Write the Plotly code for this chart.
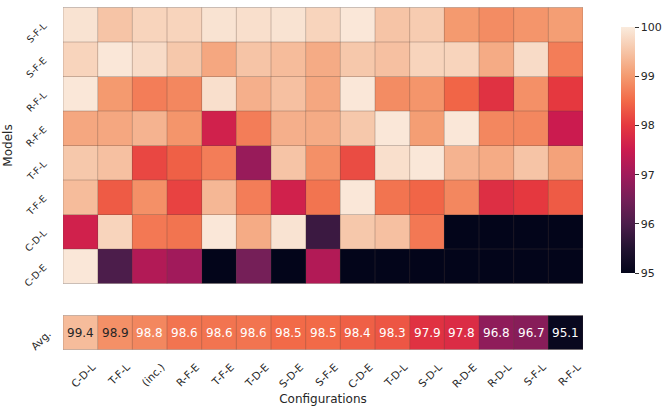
import plotly.graph_objects as go
from plotly.subplots import make_subplots

models = ["S-F-L", "S-F-E", "R-F-L", "R-F-E", "T-F-L", "T-F-E", "C-D-L", "C-D-E"]
configs = ["C-D-L", "T-F-L", "(inc.)", "R-F-E", "T-F-E", "T-D-E", "S-D-E", "S-F-E",
           "C-D-E", "T-D-L", "S-D-L", "R-D-E", "R-D-L", "S-F-L", "R-F-L"]

row_sfl = [99.9, 99.5, 99.7, 99.7, 99.9, 99.85, 99.9, 99.7, 99.95, 99.5, 99.6, 99.0, 98.85, 98.95, 99.05]
row_sfe = [99.7, 99.95, 99.8, 99.55, 99.15, 99.5, 99.4, 99.2, 99.55, 99.45, 99.7, 99.7, 99.2, 99.8, 98.7]
row_rfl = [99.95, 99.0, 98.7, 98.8, 99.85, 99.25, 99.45, 99.15, 99.95, 98.85, 98.95, 98.45, 97.9, 98.9, 98.0]
row_rfe = [99.15, 99.15, 99.3, 98.95, 97.6, 98.7, 99.25, 99.2, 99.55, 99.95, 99.05, 99.95, 98.8, 98.8, 97.5]
row_tfl = [99.55, 99.45, 98.15, 98.4, 98.7, 96.9, 99.5, 98.9, 98.2, 99.85, 99.95, 99.3, 99.2, 99.5, 99.1]
row_tfe = [99.4, 98.35, 98.9, 98.1, 99.35, 98.7, 97.6, 98.6, 99.95, 98.6, 98.45, 98.8, 97.85, 98.0, 98.35]
row_cdl = [97.6, 99.7, 98.65, 98.6, 99.95, 99.2, 99.9, 95.8, 99.55, 99.45, 98.65, 93.8, 91.5, 90.0, 85.5]
row_cde = [99.95, 96.0, 97.2, 97.0, 94.5, 96.5, 93.0, 97.2, 90.5, 90.75, 88.85, 93.4, 91.1, 89.65, 84.6]

avg_vals = [99.4, 98.9, 98.8, 98.6, 98.6, 98.6, 98.5, 98.5, 98.4, 98.3, 97.9, 97.8, 96.8, 96.7, 95.1]

z_main = [row_sfl, row_sfe, row_rfl, row_rfe, row_tfl, row_tfe, row_cdl, row_cde]

rocket = [
    [0.0, "#03051A"], [0.1, "#221331"], [0.2, "#4C1D4B"], [0.3, "#751F58"],
    [0.4, "#A11A5B"], [0.5, "#CB1B4F"], [0.6, "#E5383F"], [0.7, "#F26A48"],
    [0.8, "#F49A6F"], [0.9, "#F6C4A6"], [1.0, "#FAEBDD"],
]

FONT = "DejaVu Sans"
TXT = "#262626"

fig = make_subplots(rows=2, cols=1, shared_xaxes=False, vertical_spacing=0.0)

fig.add_trace(go.Heatmap(
    z=z_main, x=configs, y=models, zmin=95, zmax=100, colorscale=rocket,
    showscale=True,
    colorbar=dict(x=1.054, xanchor="left", y=0.195, yanchor="bottom", len=0.776,
                  lenmode="fraction", thickness=14, outlinewidth=0,
                  tickvals=[95, 96, 97, 98, 99, 100], ticks="outside", ticklen=4,
                  tickcolor="#333", tickfont=dict(family=FONT, size=11, color=TXT)),
    hoverinfo="skip",
), row=1, col=1)

text_colors = [TXT if v >= 98.85 else "white" for v in avg_vals]
fig.add_trace(go.Heatmap(
    z=[avg_vals], x=configs, y=["Avg."], zmin=95, zmax=100, colorscale=rocket,
    showscale=False, hoverinfo="skip",
), row=2, col=1)

for i, v in enumerate(avg_vals):
    fig.add_annotation(x=i, y=0, xref="x2", yref="y2", text=f"{v:.1f}", showarrow=False,
                       font=dict(family=FONT, size=12, color=text_colors[i]))

line_col = "rgba(90,70,60,0.3)"
nc, nr = len(configs), len(models)
for k in range(nc + 1):
    fig.add_shape(type="line", x0=k - 0.5, x1=k - 0.5, y0=-0.5, y1=nr - 0.5,
                  xref="x", yref="y", line=dict(color=line_col, width=1))
    fig.add_shape(type="line", x0=k - 0.5, x1=k - 0.5, y0=-0.5, y1=0.5,
                  xref="x2", yref="y2", line=dict(color=line_col, width=1))
for k in range(nr + 1):
    fig.add_shape(type="line", x0=-0.5, x1=nc - 0.5, y0=k - 0.5, y1=k - 0.5,
                  xref="x", yref="y", line=dict(color=line_col, width=1))
for k in range(2):
    fig.add_shape(type="line", x0=-0.5, x1=nc - 0.5, y0=k - 0.5, y1=k - 0.5,
                  xref="x2", yref="y2", line=dict(color=line_col, width=1))

fig.update_layout(
    width=664, height=414,
    margin=dict(l=63, r=81, t=7, b=64, autoexpand=False),
    paper_bgcolor="white", plot_bgcolor="white",
    font=dict(family=FONT, color=TXT),
    xaxis=dict(domain=[0, 1], showticklabels=False, ticks="", showgrid=False,
               zeroline=False, range=[-0.5, nc - 0.5], automargin=False),
    yaxis=dict(domain=[0.1924, 1.0], autorange="reversed", tickangle=-45,
               tickfont=dict(family=FONT, size=9.5, color=TXT), ticks="",
               ticklabelstandoff=18, showgrid=False, zeroline=False, automargin=False,
               title=dict(text="Models", font=dict(family=FONT, size=12, color=TXT),
                          standoff=6)),
    xaxis2=dict(domain=[0, 1], tickangle=-45, ticks="",
                tickfont=dict(family=FONT, size=10.5, color=TXT),
                ticklabelshift=12, ticklabelstandoff=8, automargin=False,
                showgrid=False, zeroline=False, range=[-0.5, nc - 0.5],
                title=dict(text="Configurations", font=dict(family=FONT, size=12, color=TXT),
                           standoff=5)),
    yaxis2=dict(domain=[0, 0.102], tickangle=-45, ticks="", automargin=False,
                tickfont=dict(family=FONT, size=10.5, color=TXT),
                ticklabelstandoff=14, showgrid=False, zeroline=False),
)

fig.write_html("out.html", config={"displayModeBar": False},
               post_script="document.body.style.margin='0';")
